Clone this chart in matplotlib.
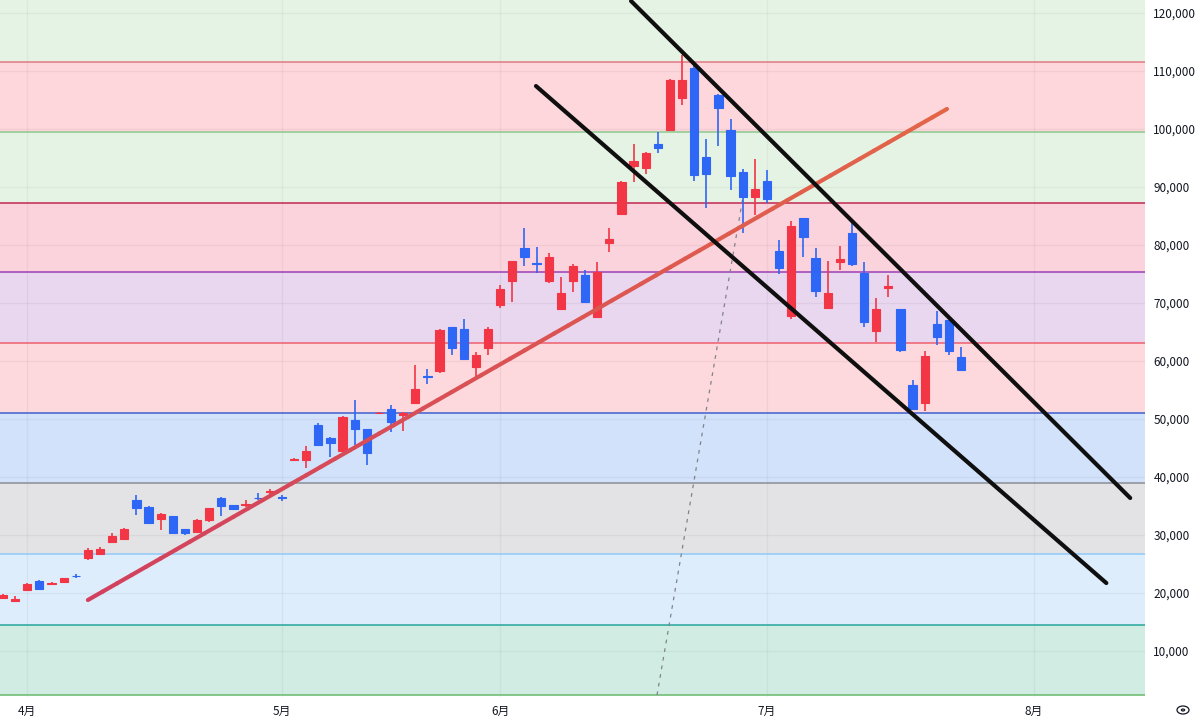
import matplotlib
matplotlib.use("Agg")
import matplotlib.pyplot as plt
import numpy as np
from matplotlib.collections import LineCollection
from matplotlib.patches import Ellipse, Circle

# ---------------- data ----------------
opens = [19100, 18600, 20500, 22000, 21500, 21850, 23000, 26100, 26750, 28750,
         29300, 36000, 34900, 32700, 33300, 31000, 30500, 32600, 36300, 35100,
         35200, 36400, 37400, 36500, 43000, 43000, 48900, 46800, 44400, 49800,
         48300, 51000, 51800, 50700, 52800, 57400, 58200, 65800, 65600, 58900,
         62300, 69700, 73800, 79500, 76900, 73800, 68900, 73800, 74800, 67500,
         80400, 85300, 93600, 93300, 97400, 99900, 105400, 110600, 95200, 105900,
         99800, 92600, 88200, 91000, 79000, 67800, 84700, 77800, 69200, 77100,
         82000, 75200, 65100, 72500, 68900, 55900, 52800, 66400, 67000, 60700]
highs = [19900, 19500, 21700, 22200, 21900, 22600, 23300, 27800, 28000, 30300,
         31200, 36900, 35000, 33800, 33300, 31100, 32800, 34700, 36600, 35200,
         36100, 37200, 38000, 36900, 43200, 45400, 49300, 46900, 50500, 53300,
         48300, 51150, 52400, 51200, 59300, 58700, 65500, 65900, 67200, 61600,
         65800, 73100, 77300, 82900, 79700, 78700, 74400, 76700, 75700, 77100,
         82900, 91000, 97400, 96100, 99500, 108600, 112700, 111400, 98200, 106000,
         101800, 93100, 94800, 92900, 80900, 84200, 84700, 79400, 77200, 79800,
         83900, 77000, 70800, 74800, 69000, 56700, 61700, 68600, 67100, 62400]
lows = [19000, 18400, 20300, 20600, 21400, 21800, 22500, 25700, 26550, 28700,
        29200, 33400, 32000, 30900, 30200, 30000, 30400, 32300, 33300, 34300,
        34900, 36000, 36900, 35900, 42950, 41600, 45500, 43500, 44300, 45500,
        42000, 50950, 47800, 48000, 52700, 56100, 58000, 61000, 60100, 57300,
        61000, 69200, 70200, 76400, 75100, 73400, 68800, 71900, 70000, 67400,
        78800, 85100, 90900, 92200, 95800, 99700, 104100, 91100, 86400, 97100,
        89500, 82000, 85200, 87300, 75000, 67200, 78000, 71100, 69100, 75700,
        76300, 65900, 63200, 71100, 61500, 51700, 51300, 62800, 61000, 58400]
closes = [19700, 19000, 21500, 20700, 21700, 22500, 22900, 27400, 27500, 29800,
          31000, 34700, 32100, 33600, 30300, 30300, 32600, 34600, 35000, 34400,
          35400, 36300, 37500, 36400, 43150, 44400, 45600, 45800, 50400, 48200,
          44100, 51100, 49500, 51100, 55100, 57200, 65300, 62300, 60300, 61000,
          65600, 72400, 77200, 78000, 76700, 78000, 71700, 76400, 70200, 75300,
          81000, 90800, 94500, 95900, 96700, 108500, 108500, 92100, 92200, 103700,
          91900, 88200, 89600, 87900, 76100, 83200, 81300, 72100, 71700, 77600,
          76700, 66800, 69000, 72900, 61900, 51800, 60900, 64200, 61700, 58500]

month_labels = ["4月", "5月", "6月", "7月", "8月"]
month_index = [2, 23, 41, 63, 85]

price_ticks = [10000, 20000, 30000, 40000, 50000, 60000,
               70000, 80000, 90000, 100000, 110000, 120000]

# horizontal levels (bottom -> top) and their colours
level_prices = [2400, 14480, 26720, 38970, 51030, 63100, 75340, 87240, 99480, 111550]
level_line_colors = ["#66bb6a", "#26a69a", "#90caf9", "#8a8d96", "#3f5fd0",
                     "#ef5f6f", "#9c3fb5", "#c2284f", "#8cc98f", "#e07a84"]
band_fill_colors = ["#d1ede3", "#ddedfb", "#e3e3e5", "#d3e2fb", "#fdd8dc",
                    "#e9d6ef", "#fbd3dd", "#e5f3e4", "#fdd7dc", "#e5f3e4"]

# drawn lines (bar index, price)
trend_up_x = [7.0, 77.84]
trend_up_y = [18790, 103450]
channel_upper_x = [51.79, 92.95]
channel_upper_y = [122070, 36380]
channel_lower_x = [43.95, 90.98]
channel_lower_y = [107410, 21720]
dashed_x = [53.93, 61.0]
dashed_y = [2400, 88000]

# ---------------- figure ----------------
W, H = 1200, 720
fig = plt.figure(figsize=(W / 100, H / 100), dpi=100)
fig.patch.set_facecolor("white")
ax = fig.add_axes([0, 23 / H, 1145 / W, 697 / H])
ax.set_facecolor("white")

x_lo, x_hi = -0.247, 94.17
y_lo, y_hi = 2069, 122241
ax.set_xlim(x_lo, x_hi)
ax.set_ylim(y_lo, y_hi)

# bands
bounds = level_prices + [y_hi + 5000]
for k in range(len(level_prices)):
    ax.axhspan(bounds[k], bounds[k + 1], color=band_fill_colors[k], lw=0, zorder=0)
for p, c in zip(level_prices, level_line_colors):
    ax.axhline(p, color=c, lw=1.1, zorder=1)

# grid
for p in price_ticks:
    ax.axhline(p, color=(0, 0, 0, 0.045), lw=1, zorder=0.5)
for m in month_index:
    ax.axvline(m, color=(0, 0, 0, 0.045), lw=1, zorder=0.5)

# candles
up_col = "#f23645"
dn_col = "#2e66f5"
bw = 0.68
for i, (o, h, l, c) in enumerate(zip(opens, highs, lows, closes)):
    col = up_col if c >= o else dn_col
    ax.vlines(i, l, h, color=col, lw=1.2, zorder=3)
    lo_b = min(o, c)
    ax.bar(i, abs(c - o), bottom=lo_b, width=bw, color=col,
           edgecolor=col, linewidth=0.8, zorder=4)

# dashed line
ax.plot(dashed_x, dashed_y, color="#80838c", lw=0.9, ls=(0, (3, 4)), zorder=2)

# gradient red trend line
n = 60
tx = np.linspace(trend_up_x[0], trend_up_x[1], n)
ty = np.linspace(trend_up_y[0], trend_up_y[1], n)
pts = np.array([tx, ty]).T.reshape(-1, 1, 2)
segs = np.concatenate([pts[:-1], pts[1:]], axis=1)
c0 = np.array(matplotlib.colors.to_rgb("#d2405e"))
c1 = np.array(matplotlib.colors.to_rgb("#e36548"))
t = np.linspace(0, 1, n - 1)[:, None]
cols = c0 * (1 - t) + c1 * t
lc = LineCollection(segs, colors=cols, linewidths=3.0, capstyle="round", zorder=5)
ax.add_collection(lc)

# channel lines
for xs, ys in [(channel_upper_x, channel_upper_y), (channel_lower_x, channel_lower_y)]:
    ax.plot(xs, ys, color="#0e0f0e", lw=3.0, solid_capstyle="round", zorder=6)

# axes styling
for s in ax.spines.values():
    s.set_visible(False)
ax.yaxis.tick_right()
ax.set_yticks(price_ticks)
ax.set_yticklabels([f"{p:,}" for p in price_ticks])
ax.set_xticks(month_index)
ax.set_xticklabels(month_labels)
ax.tick_params(axis="y", length=0, pad=6, labelsize=8.5, labelcolor="#131722")
ax.tick_params(axis="x", length=0, pad=6, labelsize=8.5, labelcolor="#131722")
for lab in ax.get_xticklabels() + ax.get_yticklabels():
    lab.set_fontfamily(["Noto Sans CJK JP", "DejaVu Sans"])

# small eye icon at bottom right
fig.patches.append(Ellipse((1183 / W, 1 - 710 / H), 12 / W, 8 / H, transform=fig.transFigure,
                           fill=False, ec="#131722", lw=0.9))
fig.patches.append(Circle((1183 / W, 1 - 710 / H), 1.6 / W, transform=fig.transFigure,
                          fill=False, ec="#131722", lw=0.9))

fig.savefig("out.png", dpi=100)
